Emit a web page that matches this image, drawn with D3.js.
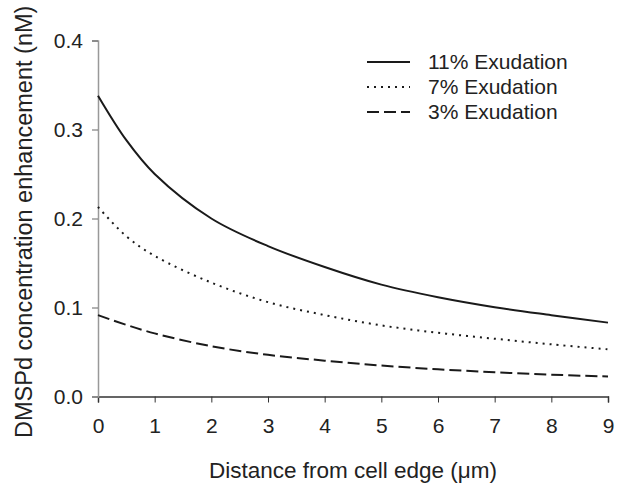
<!DOCTYPE html>
<html>
<head>
<meta charset="utf-8">
<script src="https://cdn.jsdelivr.net/npm/d3@7"></script>
<style>
  html, body { margin: 0; padding: 0; background: #fff; }
  text { font-family: "Liberation Sans", Arial, sans-serif; fill: #222; }
</style>
</head>
<body>
<div id="chart"></div>
<script>
// ----- dati
var distance = [0, 0.5, 1, 2, 3, 4, 5, 6, 7, 8, 9];
var exud11 = [0.338, 0.288, 0.250, 0.200, 0.169, 0.1455, 0.1257, 0.1116, 0.1004, 0.0914, 0.083];
var exud7 = [0.213, 0.180, 0.158, 0.128, 0.106, 0.0915, 0.0799, 0.0716, 0.0649, 0.0586, 0.053];
var exud3 = [0.0914, 0.0805, 0.0709, 0.0565, 0.0468, 0.0403, 0.0348, 0.0306, 0.0272, 0.0245, 0.0225];
var seriesNames = ['11% Exudation', '7% Exudation', '3% Exudation'];
var xTicks = [0, 1, 2, 3, 4, 5, 6, 7, 8, 9];
var yTicks = [0, 0.1, 0.2, 0.3, 0.4];

var w = 617;
var h = 484;

// ----- stile linee
var dashes = [null, '2,5', '12,5'];

var svg = d3.select('#chart').append('svg')
    .attr('width', w).attr('height', h);

var x = d3.scaleLinear().domain([0, 9]).range([98, 608]);
var y = d3.scaleLinear().domain([0, 0.4]).range([396.5, 40.5]);

// ----- asse x
var xAxis = svg.append('g')
    .attr('transform', 'translate(0,' + y(0) + ')')
    .call(d3.axisBottom(x).tickValues(xTicks).tickSize(6).tickPadding(16).tickFormat(d3.format('d')));
xAxis.select('.domain').attr('stroke', '#333').attr('stroke-width', 1.5);
xAxis.selectAll('.tick line').attr('stroke', '#333');
xAxis.selectAll('text').attr('font-size', 21).attr('fill', '#222');

// ----- asse y
var yAxis = svg.append('g')
    .attr('transform', 'translate(' + x(0) + ',0)')
    .call(d3.axisLeft(y).tickValues(yTicks).tickSize(6).tickPadding(9).tickFormat(d3.format('.1f')));
yAxis.select('.domain').attr('stroke', '#999').attr('stroke-width', 1.5);
yAxis.selectAll('.tick line').attr('stroke', '#666');
yAxis.selectAll('text').attr('font-size', 21).attr('fill', '#222');

// ----- titoli assi
svg.append('text')
    .attr('x', (x(0) + x(9)) / 2)
    .attr('y', 478)
    .attr('text-anchor', 'middle')
    .attr('font-size', 22.5)
    .text('Distance from cell edge (\u03bcm)');

svg.append('text')
    .attr('transform', 'translate(32,' + 438 + ') rotate(-90)')
    .attr('text-anchor', 'start')
    .attr('font-size', 23.5)
    .text('DMSPd concentration enhancement (nM)');

// ----- curve
var allSeries = [exud11, exud7, exud3];

var line = d3.line()
    .x(function (d, i) { return x(distance[i]); })
    .y(function (d) { return y(d); })
    .curve(d3.curveCatmullRom.alpha(0.5));

svg.selectAll('path.curve').data(allSeries)
    .enter().append('path')
    .attr('class', 'curve')
    .attr('d', line)
    .attr('fill', 'none')
    .attr('stroke', '#1a1a1a')
    .attr('stroke-width', 2)
    .attr('stroke-dasharray', function (d, i) { return dashes[i]; });

// ----- legenda
var legend = svg.append('g').attr('class', 'legend');
seriesNames.forEach(function (name, i) {
    var ly = 62 + i * 25;
    legend.append('line')
        .attr('x1', 367).attr('x2', 410)
        .attr('y1', ly).attr('y2', ly)
        .attr('stroke', '#1a1a1a')
        .attr('stroke-width', 2)
        .attr('stroke-dasharray', dashes[i]);
    legend.append('text')
        .attr('x', 428)
        .attr('y', ly + 7)
        .attr('font-size', 21)
        .text(name);
});
</script>
</body>
</html>
